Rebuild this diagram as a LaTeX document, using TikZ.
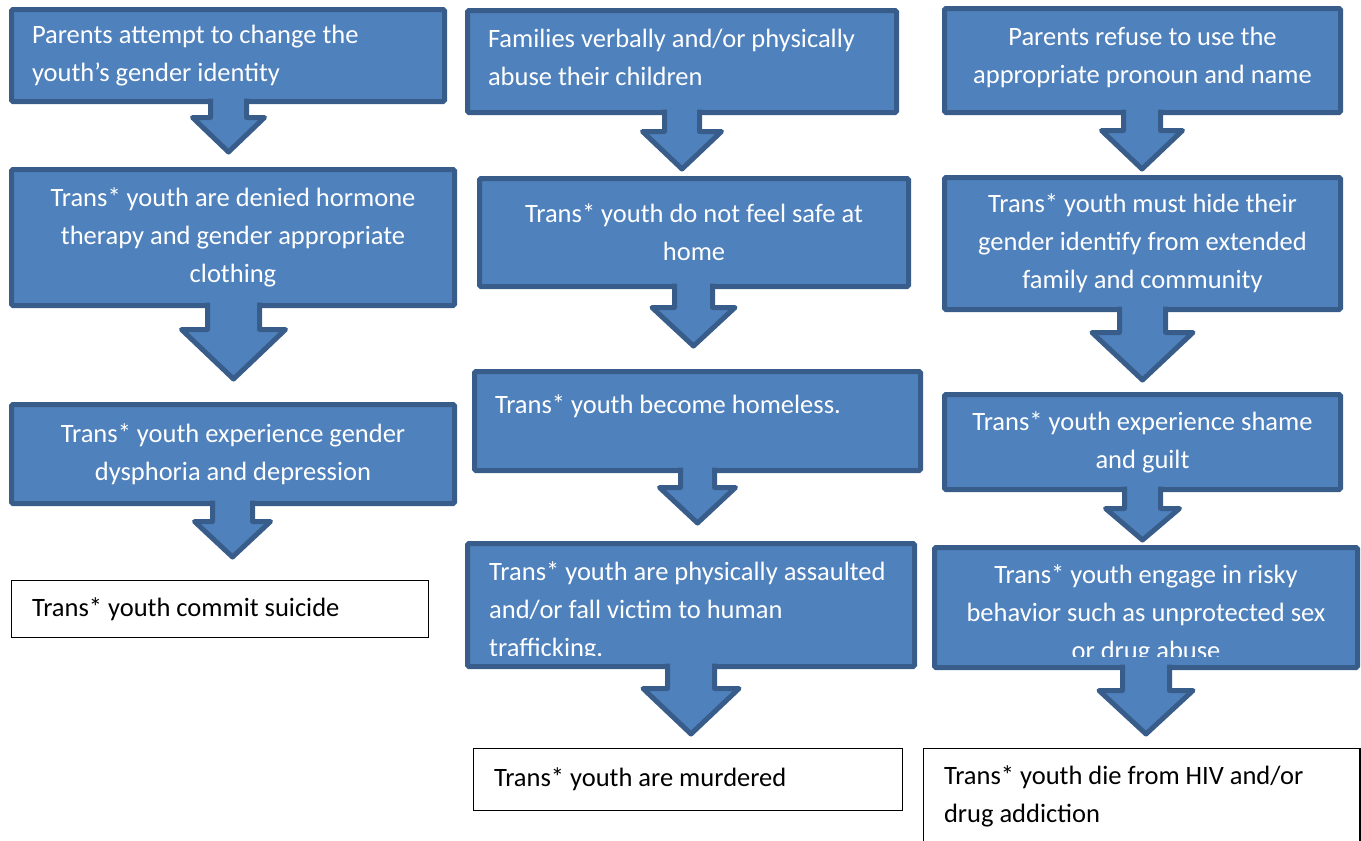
\documentclass[tikz,border=0pt]{standalone}
\usepackage{fontspec}
\setmainfont{Carlito}
\definecolor{boxblue}{RGB}{79,129,189}
\definecolor{boxline}{RGB}{56,93,138}
% block arrow: from node, centre x, shaft half, head half, head y, tip y
\newcommand\bigarrow[6]{%
  \draw [blockarrow] (#1.south -| {#2-#3},0) ++(0,-3) -- ({#2-#3},#5) -- ({#2-#4},#5) -- (#2,#6)
    -- ({#2+#4},#5) -- ({#2+#3},#5) -- (#1.south -| {#2+#3},0) -- ++(0,-3);
}
\begin{document}
\begin{tikzpicture}[x=1pt, y=-1pt,
    every node/.style={font=\fontsize{26.5}{38}\selectfont},
    bluebox/.style={draw=boxline, fill=boxblue, line width=5pt, rounded corners=1.5pt, text=white, outer sep=0pt, anchor=north west},
    whitebox/.style={draw=black, fill=white, line width=1.2pt, outer sep=0pt, anchor=north west, inner xsep=20.5pt, align=flush left},
    blockarrow/.style={draw=boxline, fill=boxblue, line width=5pt, line join=round}]
    \clip (0,0) rectangle (1361,841);
    % left column
    \node [bluebox, minimum width=433pt, minimum height=92pt, inner xsep=20.5pt, text width=392pt, align=flush left] (change) at (11.5,9.5) {Parents attempt to change the\\youth’s gender identity};
    \node [bluebox, minimum width=443pt, minimum height=136pt, align=center] (denied) at (11.5,169.5) {Trans* youth are denied hormone\\therapy and gender appropriate\\clothing};
    \node [bluebox, minimum width=443pt, minimum height=99pt, align=center] (dysphoria) at (11.5,404.5) {Trans* youth experience gender\\dysphoria and depression};
    \node [whitebox, minimum width=417pt, minimum height=57pt, text width=376pt] (suicide) at (11.5,580.5) {Trans* youth commit suicide};
    \bigarrow{change}{228.5}{18}{36}{117.5}{152}
    \bigarrow{denied}{233.5}{26}{52}{329.5}{379}
    \bigarrow{dysphoria}{232.5}{20}{38}{521.5}{557}
    % middle column
    \node [bluebox, minimum width=429pt, minimum height=102pt, inner xsep=20.5pt, text width=388pt, align=flush left] (abuse) at (467.5,10.5) {Families verbally and/or physically\\abuse their children\\[-40pt]\strut};
    \node [bluebox, minimum width=429pt, minimum height=108pt, align=center] (unsafe) at (479.5,178.5) {Trans* youth do not feel safe at\\home};
    \node [bluebox, minimum width=446pt, minimum height=99pt, inner xsep=20.5pt, text width=405pt, align=flush left] (homeless) at (474.5,371.5) {Trans* youth become homeless.\\[-16pt]\strut};
    \node [bluebox, minimum width=447pt, minimum height=123pt] (assault) at (467.5,543.5) {};
    \begin{scope}
      \clip (467.5,543.5) rectangle (914.5,655);
      \node [anchor=north west, inner sep=0pt, text=white, align=flush left] (assaulttext) at (489,561) {Trans* youth are physically assaulted\\and/or fall victim to human\\trafficking.};
    \end{scope}
    \node [whitebox, minimum width=429pt, minimum height=62pt, text width=388pt] (murder) at (473.5,748.5) {Trans* youth are murdered};
    \bigarrow{abuse}{682}{17.5}{39.5}{131.5}{169}
    \bigarrow{unsafe}{693.5}{19}{41.5}{307.5}{346}
    \bigarrow{homeless}{697.5}{17}{38}{487.5}{523}
    \bigarrow{assault}{691}{23.5}{48}{688.5}{734}
    % right column
    \node [bluebox, minimum width=396pt, minimum height=104pt, align=center] (pronoun) at (944.5,8.5) {Parents refuse to use the\\appropriate pronoun and name\\[-39pt]\strut};
    \node [bluebox, minimum width=396pt, minimum height=132pt, align=center] (hide) at (944.5,177.5) {Trans* youth must hide their\\gender identify from extended\\family and community};
    \node [bluebox, minimum width=396pt, minimum height=95pt, align=center] (shame) at (944.5,394.5) {Trans* youth experience shame\\and guilt};
    \node [bluebox, minimum width=423pt, minimum height=120pt] (risky) at (934.5,547.5) {};
    \begin{scope}
      \clip (934.5,547.5) rectangle (1357.5,656);
      \node [anchor=north, inner sep=0pt, text=white, align=center] (riskytext) at (1146,564) {Trans* youth engage in risky\\behavior such as unprotected sex\\or drug abuse};
    \end{scope}
    \node [whitebox, minimum width=436.5pt, minimum height=130pt, text width=395.5pt] (hiv) at (923.5,748.5) {Trans* youth die from HIV and/or\\drug addiction\\[-10pt]\strut};
    \bigarrow{pronoun}{1142}{18.5}{40.5}{130.5}{169}
    \bigarrow{hide}{1142.5}{23}{50.5}{332.5}{380}
    \bigarrow{shame}{1142.5}{18}{37}{508.5}{540}
    \bigarrow{risky}{1146}{23.5}{47}{690.5}{734}
\end{tikzpicture}
\end{document}
